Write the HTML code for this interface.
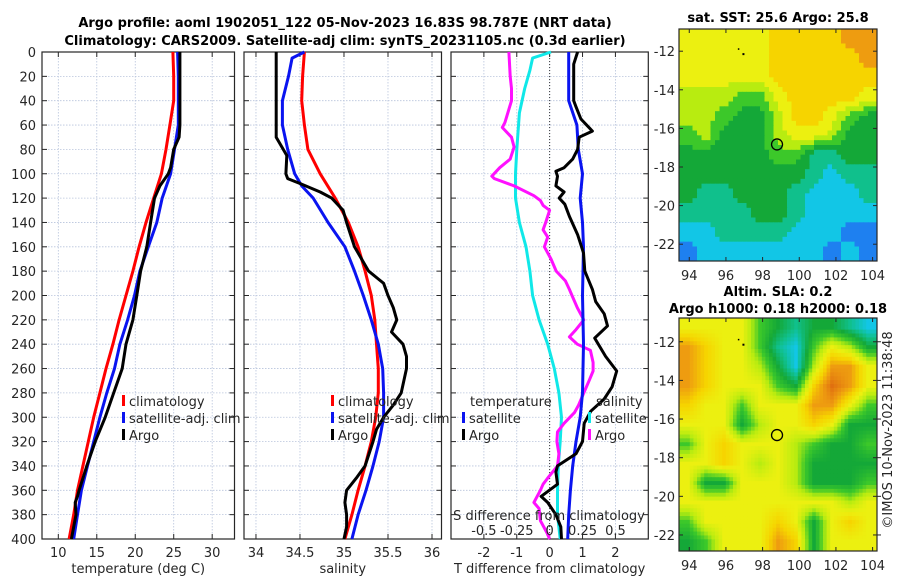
<!DOCTYPE html>
<html><head><meta charset="utf-8"><style>
html,body{margin:0;padding:0;background:#fff;}
svg{display:block;font-family:"DejaVu Sans","Liberation Sans",sans-serif;}
.t{font-size:13px;fill:#262626;}
.b{font-size:13px;font-weight:bold;fill:#000;}
</style></head><body>
<svg id="fig" width="900" height="580" viewBox="0 0 900 580">
<text class="b" x="345" y="27" text-anchor="middle">Argo profile: aoml 1902051_122 05-Nov-2023 16.83S 98.787E (NRT data)</text>
<text class="b" x="345" y="45" text-anchor="middle">Climatology: CARS2009. Satellite-adj clim: synTS_20231105.nc (0.3d earlier)</text>
<text class="b" x="778" y="22" text-anchor="middle">sat. SST: 25.6 Argo: 25.8</text>
<text class="b" x="778" y="296" text-anchor="middle">Altim. SLA: 0.2</text>
<text class="b" x="778" y="313" text-anchor="middle">Argo h1000: 0.18 h2000: 0.18</text>
<text class="t" transform="translate(892,430) rotate(-90)" text-anchor="middle">©IMOS 10-Nov-2023 11:38:48</text>
<defs>
<clipPath id="clipTop"><rect x="679" y="29" width="198" height="232"/></clipPath>
<clipPath id="clipBot"><rect x="679" y="318" width="198" height="233"/></clipPath>
</defs>
</svg>
<script>
// ---------- profile data ----------
const tDepthClim = [0,20,40,60,80,100,120,140,160,180,200,220,240,260,280,300,320,340,360,380,400];
const tempClim = [24.9,25.0,25.0,24.5,24.0,23.4,22.4,21.4,20.5,19.7,18.8,17.9,17.1,16.2,15.4,14.6,13.9,13.2,12.5,12.0,11.4];
const tempSat  = [25.5,25.6,25.6,25.6,25.1,24.6,23.5,22.8,21.7,20.6,19.9,19.0,18.0,17.3,16.3,15.4,14.6,13.8,13.0,12.5,12.0];
const tDepthArgo = [0,20,40,60,70,80,95,100,110,120,140,160,180,200,220,240,260,280,300,320,340,360,365,370,380,400];
const tempArgo = [25.8,25.8,25.8,25.8,25.7,25.0,24.6,24.3,23.2,22.5,22.0,21.5,20.7,20.2,19.7,18.8,18.3,17.2,16.1,14.8,13.7,12.7,12.5,12.2,12.3,11.7];
const sDepthClim = [0,20,40,60,80,100,120,140,160,180,200,220,240,260,280,300,320,340,360,380,400];
const salClim = [34.55,34.53,34.52,34.55,34.59,34.73,34.90,35.05,35.16,35.24,35.31,35.35,35.37,35.39,35.39,35.36,35.31,35.24,35.16,35.09,35.01];
const sDepthSat = [0,5,20,40,60,80,100,110,120,140,160,180,200,220,240,260,280,300,320,340,360,380,400];
const salSat = [34.55,34.41,34.37,34.30,34.30,34.36,34.44,34.52,34.65,34.82,35.01,35.12,35.22,35.31,35.39,35.44,35.45,35.45,35.40,35.33,35.25,35.16,35.09];
const sDepthArgo = [0,70,75,85,100,104,108,115,120,130,140,160,180,190,200,210,220,230,240,250,260,280,290,300,310,320,340,350,360,370,380,390,400];
const salArgo = [34.23,34.23,34.27,34.35,34.34,34.36,34.50,34.73,34.86,34.99,35.03,35.12,35.28,35.45,35.50,35.56,35.60,35.54,35.67,35.71,35.71,35.65,35.56,35.45,35.37,35.33,35.24,35.14,35.03,35.01,35.03,35.03,35.00];
const dDepthTsat = [0,40,60,80,100,120,140,160,200,240,280,300,320,340,360,380,400];
const dTsat = [0.58,0.58,0.83,0.87,1.0,0.93,1.0,1.03,1.0,1.03,1.0,0.93,0.8,0.7,0.63,0.58,0.55];
const dDepthTargo = [0,10,20,40,45,55,65,70,80,88,95,98,102,110,115,120,125,135,150,165,180,195,205,215,225,235,250,262,275,285,295,305,320,330,340,345,355,365,370,380,390,400];
const dTargo = [0.85,0.73,0.73,0.73,0.8,0.95,1.3,0.9,0.85,0.7,0.44,0.19,0.24,0.19,0.44,0.29,0.46,0.6,0.85,1.03,1.07,1.3,1.4,1.66,1.76,1.37,1.7,2.04,1.9,1.66,1.25,1.05,1.0,0.8,0.24,0.19,0.24,-0.26,-0.06,0.19,0.34,0.36];
const dDepthSsat = [0,5,15,30,50,80,100,120,140,160,180,200,220,240,260,280,300,320,340,360,380,400];
const dSsat = [0.01,-0.13,-0.15,-0.19,-0.23,-0.25,-0.26,-0.26,-0.23,-0.18,-0.15,-0.13,-0.08,-0.015,0.035,0.07,0.09,0.08,0.066,0.06,0.06,0.08];
const dDepthSargo = [0,20,30,40,58,62,70,78,88,95,102,104,110,118,122,126,130,140,146,152,160,170,180,188,195,200,210,220,228,234,240,245,255,262,270,280,290,296,305,312,320,330,340,350,355,360,370,375,385,395,400];
const dSargo = [-0.31,-0.30,-0.29,-0.29,-0.34,-0.36,-0.29,-0.27,-0.30,-0.38,-0.44,-0.42,-0.27,-0.12,-0.07,-0.05,0,-0.03,-0.05,-0.015,-0.04,0.01,0.05,0.12,0.15,0.17,0.21,0.26,0.20,0.15,0.21,0.31,0.33,0.33,0.30,0.26,0.22,0.19,0.11,0.06,0.055,0.07,0.06,-0.015,-0.05,-0.07,-0.12,-0.08,-0.07,-0.02,0];
const depthTicks = [0,20,40,60,80,100,120,140,160,180,200,220,240,260,280,300,320,340,360,380,400];
const tTicks = [10,15,20,25,30];
const sTicks = [34,34.5,35,35.5,36];
const dTTicks = [-2,-1,0,1,2];
const dSTickLabels = ['-0.5','-0.25','0','0.25','0.5'];
const dSTicks = [-0.5,-0.25,0,0.25,0.5];
// ---------- map data (colour level 0..9) ----------
const sstGrid = [
[6,6,6,6,6,7,7,7,7,8,8],[6,6,6,6,6,7,7,7,7,7,8],[6,6,6,6,6,7,7,7,7,7,7],[5,5,5,4,4,6,7,7,7,7,6],
[5,5,4,3,3,5,7,7,6,4,3],[4,5,3,3,3,5,6,6,5,3,3],[3,3,3,3,3,4,4,2,2,3,3],[3,3,3,3,3,3,3,2,1,2,2],
[3,2,2,3,3,3,2,1,1,1,2],[2,2,2,2,3,3,2,1,1,1,1],[1,1,2,2,2,2,1,1,1,0,0],[0,1,1,1,1,1,1,1,0,1,0]];
const slaGrid = [
[6,6,6,6,4,3,2,3,3,2,1],[8,7,6,6,4,2,1,4,6,5,3],[8,7,6,6,5,3,1,5,8,8,6],[8,7,6,6,6,4,3,7,9,8,6],
[7,6,6,4,6,6,6,8,8,6,4],[6,6,6,3,5,6,6,7,6,3,3],[4,6,7,6,6,6,5,4,3,3,4],[6,6,7,6,5,6,5,3,3,3,3],
[6,3,3,6,6,6,5,3,3,3,4],[6,6,6,6,6,6,6,6,6,5,6],[4,6,6,6,6,7,6,3,6,7,6],[3,4,6,6,6,8,7,3,6,6,6]];
const cmap = ['#1e80f0','#12c6e6','#10c08c','#14a838','#3cc82a','#b8ec10','#ecf010','#f6d400','#ee9c10','#e07010'];
const lonTicks = [94,96,98,100,102,104];
const latTicks = [-12,-14,-16,-18,-20,-22];
const argoLon = 98.787, argoLat = -16.83;

const NS='http://www.w3.org/2000/svg';
const svg=document.getElementById('fig');
function mk(tag,attrs,parent){const e=document.createElementNS(NS,tag);for(const k in attrs)e.setAttribute(k,attrs[k]);(parent||svg).appendChild(e);return e;}
const Y0=52, YS=1.2175;
const yD=d=>Y0+d*YS;

function panel(name,x0,x1,xmin,xmax,ticks,labels,xlabel,showY){
  const g=mk('g',{});
  
  
  const sx=v=>x0+(v-xmin)/(xmax-xmin)*(x1-x0);
  const y1=yD(400);
  depthTicks.forEach((d,i)=>{
    const y=yD(d);
    if(i>0&&i<depthTicks.length-1){const l=mk('line',{x1:x0,x2:x1,y1:y,y2:y,stroke:'#b8c4dc','stroke-width':0.8,'stroke-dasharray':'1.5,1.5'},g);
    
    }
    mk('line',{x1:x0,x2:x0+5,y1:y,y2:y,stroke:'#262626','stroke-width':1},g);
    mk('line',{x1:x1-5,x2:x1,y1:y,y2:y,stroke:'#262626','stroke-width':1},g);
    if(showY){const t=mk('text',{x:36,y:y+5,'text-anchor':'end',class:'t'},g);t.textContent=d;
    
    }
  });
  ticks.forEach((v,i)=>{
    const x=sx(v);
    const l=mk('line',{x1:x,x2:x,y1:Y0,y2:y1,stroke:'#b8c4dc','stroke-width':0.8,'stroke-dasharray':'1.5,1.5'},g);
    
    
    mk('line',{x1:x,x2:x,y1:y1,y2:y1-5,stroke:'#262626'},g);
    mk('line',{x1:x,x2:x,y1:Y0,y2:Y0+5,stroke:'#262626'},g);
    const t=mk('text',{x:x,y:557,'text-anchor':'middle',class:'t'},g);t.textContent=labels[i];
    
    
  });
  const r=mk('rect',{x:x0,y:Y0,width:x1-x0,height:y1-Y0,fill:'none',stroke:'#262626','stroke-width':1.2},g);
  
  
  const xl=mk('text',{x:(x0+x1)/2,y:573,'text-anchor':'middle',class:'t'},g);xl.textContent=xlabel;
  
  
  return {g,sx};
}
function line(p,sx,depths,vals,color,name,w){
  const pts=vals.map((v,i)=>sx(v).toFixed(1)+','+yD(depths[i]).toFixed(1)).join(' ');
  const l=mk('polyline',{points:pts,fill:'none',stroke:color,'stroke-width':w||3,'stroke-linejoin':'round'},p);
  
  
}
function legendEntry(x,y,color,txt,name){
  const g=mk('g',{});
  
  
  mk('rect',{x:x,y:y-6,width:3,height:11,fill:color},g);
  const t=mk('text',{x:x+7,y:y+5,class:'t'},g);t.textContent=txt;
}
// panel 1
const P1=panel('temperature',42,234.5,7.88,32.9,tTicks,tTicks.map(String),'temperature (deg C)',true);
line(P1.g,P1.sx,tDepthClim,tempClim,'#ff0000','climatology-temp-line');
line(P1.g,P1.sx,tDepthClim,tempSat,'#0a14f0','satellite-temp-line');
line(P1.g,P1.sx,tDepthArgo,tempArgo,'#000','argo-temp-line');
legendEntry(122,401,'#ff0000','climatology','legend-climatology');
legendEntry(122,418,'#0a14f0','satellite-adj. clim','legend-satellite');
legendEntry(122,435,'#000','Argo','legend-argo');
// panel 2
const P2=panel('salinity',244,441.5,33.864,36.108,sTicks,['34','34.5','35','35.5','36'],'salinity',false);
line(P2.g,P2.sx,sDepthClim,salClim,'#ff0000','climatology-sal-line');
line(P2.g,P2.sx,sDepthSat,salSat,'#0a14f0','satellite-sal-line');
line(P2.g,P2.sx,sDepthArgo,salArgo,'#000','argo-sal-line');
legendEntry(331,401,'#ff0000','climatology','legend2-climatology');
legendEntry(331,418,'#0a14f0','satellite-adj. clim','legend2-satellite');
legendEntry(331,435,'#000','Argo','legend2-argo');
// panel 3
const P3=panel('difference',451,648.3,-3,3,dTTicks,dTTicks.map(String),'T difference from climatology',false);
const sxS=v=>P3.sx(v*4);
const zl=mk('line',{x1:P3.sx(0),x2:P3.sx(0),y1:Y0,y2:yD(400),stroke:'#333','stroke-width':1,'stroke-dasharray':'1,2'},P3.g);


line(P3.g,sxS,dDepthSsat,dSsat,'#10e8e8','s-satellite-diff-line');
line(P3.g,sxS,dDepthSargo,dSargo,'#ff10ff','s-argo-diff-line');
line(P3.g,P3.sx,dDepthTsat,dTsat,'#0a14f0','t-satellite-diff-line');
line(P3.g,P3.sx,dDepthTargo,dTargo,'#000','t-argo-diff-line');
let ht=mk('text',{x:470,y:406,class:'t'});ht.textContent='temperature';


ht=mk('text',{x:596,y:406,class:'t'});ht.textContent='salinity';


legendEntry(462,418,'#0a14f0','satellite','legend3-t-satellite');
legendEntry(462,435,'#000','Argo','legend3-t-argo');
legendEntry(588,418,'#10e8e8','satellite','legend3-s-satellite');
legendEntry(588,435,'#ff10ff','Argo','legend3-s-argo');
ht=mk('text',{x:549,y:520,'text-anchor':'middle',class:'t'});ht.textContent='S difference from climatology';


dSTicks.forEach((v,i)=>{const t=mk('text',{x:sxS(v),y:535,'text-anchor':'middle',class:'t'});t.textContent=dSTickLabels[i];

});

// ---------- maps ----------
const rgb=cmap.map(h=>[parseInt(h.slice(1,3),16),parseInt(h.slice(3,5),16),parseInt(h.slice(5,7),16)]);
function colorAt(v){
  v=Math.max(0,Math.min(9,v));const i=Math.min(8,Math.floor(v)),f=v-i;
  const a=rgb[i],b=rgb[i+1];
  return 'rgb('+a.map((x,k)=>Math.round(x+(b[k]-x)*f)).join(',')+')';
}
function sample(grid,r,c){
  const R=grid.length,C=grid[0].length;
  r=Math.max(0,Math.min(R-1,r));c=Math.max(0,Math.min(C-1,c));
  const r0=Math.floor(r),c0=Math.floor(c),r1=Math.min(R-1,r0+1),c1=Math.min(C-1,c0+1);
  const fr=r-r0,fc=c-c0;
  const top=grid[r0][c0]*(1-fc)+grid[r0][c1]*fc, bot=grid[r1][c0]*(1-fc)+grid[r1][c1]*fc;
  return top*(1-fr)+bot*fr;
}
function map(name,grid,top,bot,latTop,latBot,clip,smooth,rightTicks){
  const x0=679,x1=877,lonL=93.44,lonR=104.24;
  const sx=v=>x0+(v-lonL)/(lonR-lonL)*(x1-x0);
  const sy=v=>top+(latTop-v)/(latTop-latBot)*(bot-top);
  const g=mk('g',{'clip-path':'url(#'+clip+')'});
  
  
  const rows=grid.length,cols=grid[0].length;
  const N=smooth?5:4;
  const cw=(x1-x0)/(cols*N),ch=(bot-top)/(rows*N);
  for(let r=0;r<rows*N;r++)for(let c=0;c<cols*N;c++){
    let v=sample(grid,(r+0.5)/N-0.5,(c+0.5)/N-0.5);
    if(!smooth)v=Math.round(v);
    mk('rect',{x:(x0+c*cw).toFixed(2),y:(top+r*ch).toFixed(2),width:(cw+0.5).toFixed(2),height:(ch+0.5).toFixed(2),fill:colorAt(v)},g);
  }
  const f=mk('rect',{x:x0,y:top,width:x1-x0,height:bot-top,fill:'none',stroke:'#262626','stroke-width':1.2});
  
  
  lonTicks.forEach(v=>{const x=sx(v);
    mk('line',{x1:x,x2:x,y1:bot,y2:bot-4,stroke:'#262626'});mk('line',{x1:x,x2:x,y1:top,y2:top+4,stroke:'#262626'});
    const t=mk('text',{x:x,y:bot+19,'text-anchor':'middle',class:'t'});t.textContent=v;
    
    });
  latTicks.forEach(v=>{const y=sy(v);
    mk('line',{x1:x0,x2:x0+4,y1:y,y2:y,stroke:'#262626'});mk('line',{x1:x1,x2:x1-4,y1:y,y2:y,stroke:'#262626'});
    if(rightTicks)mk('line',{x1:x1,x2:x1+4,y1:y,y2:y,stroke:'#262626'});
    const t=mk('text',{x:675,y:y+5,'text-anchor':'end',class:'t'});t.textContent=v;
    
    });
  const c=mk('circle',{cx:sx(argoLon),cy:sy(argoLat),r:5.5,fill:'none',stroke:'#000','stroke-width':1.3});
  
  
  mk('rect',{x:sx(96.65),y:sy(-11.85),width:1.5,height:1.5,fill:'#000'});
  mk('rect',{x:sx(96.9),y:sy(-12.1),width:2,height:2,fill:'#000'});
}
map('sst',sstGrid,29,261,-10.85,-22.87,'clipTop',false,false);
map('sla',slaGrid,318,551,-10.77,-22.83,'clipBot',true,true);
</script>
</body></html>
